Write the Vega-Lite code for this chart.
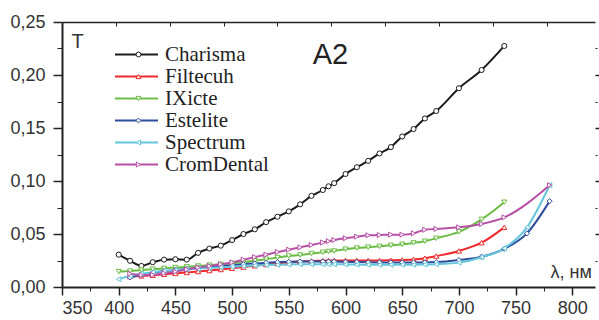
{
  "$schema": "https://vega.github.io/schema/vega-lite/v6.json",
  "width": 533,
  "height": 265,
  "autosize": {"type": "none"},
  "padding": {"left": 62, "top": 22, "right": 4, "bottom": 33},
  "background": "white",
  "config": {"view": {"stroke": null}},
  "title": {"text": "A2", "font": "Liberation Sans", "fontSize": 29, "fontWeight": "normal", "color": "#222", "anchor": "middle", "frame": "group", "baseline": "alphabetic", "offset": -80, "dx": 2},
  "data": {"values": [
    {"s":"Charisma","x":400,"T":0.0305},{"s":"Charisma","x":410,"T":0.0247},{"s":"Charisma","x":420,"T":0.0199},{"s":"Charisma","x":430,"T":0.0234},{"s":"Charisma","x":440,"T":0.0258},{"s":"Charisma","x":450,"T":0.0262},{"s":"Charisma","x":460,"T":0.0258},{"s":"Charisma","x":470,"T":0.0322},{"s":"Charisma","x":480,"T":0.0363},{"s":"Charisma","x":490,"T":0.039},{"s":"Charisma","x":500,"T":0.0443},{"s":"Charisma","x":510,"T":0.05},{"s":"Charisma","x":520,"T":0.0544},{"s":"Charisma","x":530,"T":0.0612},{"s":"Charisma","x":540,"T":0.0663},{"s":"Charisma","x":550,"T":0.0713},{"s":"Charisma","x":560,"T":0.078},{"s":"Charisma","x":570,"T":0.086},{"s":"Charisma","x":580,"T":0.0915},{"s":"Charisma","x":585,"T":0.095},{"s":"Charisma","x":590,"T":0.098},{"s":"Charisma","x":600,"T":0.1066},{"s":"Charisma","x":610,"T":0.113},{"s":"Charisma","x":620,"T":0.119},{"s":"Charisma","x":630,"T":0.126},{"s":"Charisma","x":640,"T":0.132},{"s":"Charisma","x":650,"T":0.142},{"s":"Charisma","x":660,"T":0.149},{"s":"Charisma","x":670,"T":0.159},{"s":"Charisma","x":680,"T":0.166},{"s":"Charisma","x":700,"T":0.1875},{"s":"Charisma","x":720,"T":0.2047},{"s":"Charisma","x":740,"T":0.2274},

    {"s":"Filtecuh","x":410,"T":0.010},{"s":"Filtecuh","x":420,"T":0.0105},{"s":"Filtecuh","x":430,"T":0.011},{"s":"Filtecuh","x":440,"T":0.012},{"s":"Filtecuh","x":450,"T":0.0128},{"s":"Filtecuh","x":460,"T":0.0137},{"s":"Filtecuh","x":470,"T":0.0146},{"s":"Filtecuh","x":480,"T":0.0155},{"s":"Filtecuh","x":490,"T":0.0165},{"s":"Filtecuh","x":500,"T":0.0176},{"s":"Filtecuh","x":510,"T":0.0188},{"s":"Filtecuh","x":520,"T":0.020},{"s":"Filtecuh","x":530,"T":0.0212},{"s":"Filtecuh","x":540,"T":0.0222},{"s":"Filtecuh","x":550,"T":0.0232},{"s":"Filtecuh","x":560,"T":0.024},{"s":"Filtecuh","x":570,"T":0.0245},{"s":"Filtecuh","x":580,"T":0.0248},{"s":"Filtecuh","x":585,"T":0.025},{"s":"Filtecuh","x":590,"T":0.025},{"s":"Filtecuh","x":600,"T":0.025},{"s":"Filtecuh","x":610,"T":0.025},{"s":"Filtecuh","x":620,"T":0.025},{"s":"Filtecuh","x":630,"T":0.025},{"s":"Filtecuh","x":640,"T":0.0252},{"s":"Filtecuh","x":650,"T":0.0255},{"s":"Filtecuh","x":660,"T":0.026},{"s":"Filtecuh","x":670,"T":0.0272},{"s":"Filtecuh","x":680,"T":0.0292},{"s":"Filtecuh","x":700,"T":0.034},{"s":"Filtecuh","x":720,"T":0.0418},{"s":"Filtecuh","x":740,"T":0.0563},

    {"s":"IXicte","x":400,"T":0.0145},{"s":"IXicte","x":410,"T":0.015},{"s":"IXicte","x":420,"T":0.016},{"s":"IXicte","x":430,"T":0.0168},{"s":"IXicte","x":440,"T":0.0176},{"s":"IXicte","x":450,"T":0.0184},{"s":"IXicte","x":460,"T":0.019},{"s":"IXicte","x":470,"T":0.0198},{"s":"IXicte","x":480,"T":0.0206},{"s":"IXicte","x":490,"T":0.0215},{"s":"IXicte","x":500,"T":0.0224},{"s":"IXicte","x":510,"T":0.0235},{"s":"IXicte","x":520,"T":0.0248},{"s":"IXicte","x":530,"T":0.0262},{"s":"IXicte","x":540,"T":0.0278},{"s":"IXicte","x":550,"T":0.0292},{"s":"IXicte","x":560,"T":0.0302},{"s":"IXicte","x":570,"T":0.0316},{"s":"IXicte","x":580,"T":0.0328},{"s":"IXicte","x":585,"T":0.0335},{"s":"IXicte","x":590,"T":0.034},{"s":"IXicte","x":600,"T":0.0357},{"s":"IXicte","x":610,"T":0.0367},{"s":"IXicte","x":620,"T":0.0376},{"s":"IXicte","x":630,"T":0.0384},{"s":"IXicte","x":640,"T":0.0393},{"s":"IXicte","x":650,"T":0.0403},{"s":"IXicte","x":660,"T":0.0416},{"s":"IXicte","x":670,"T":0.0432},{"s":"IXicte","x":680,"T":0.046},{"s":"IXicte","x":700,"T":0.052},{"s":"IXicte","x":720,"T":0.0638},{"s":"IXicte","x":740,"T":0.080},

    {"s":"Estelite","x":410,"T":0.009},{"s":"Estelite","x":420,"T":0.0115},{"s":"Estelite","x":430,"T":0.0135},{"s":"Estelite","x":440,"T":0.015},{"s":"Estelite","x":450,"T":0.016},{"s":"Estelite","x":460,"T":0.017},{"s":"Estelite","x":470,"T":0.018},{"s":"Estelite","x":480,"T":0.019},{"s":"Estelite","x":490,"T":0.0198},{"s":"Estelite","x":500,"T":0.0205},{"s":"Estelite","x":510,"T":0.0215},{"s":"Estelite","x":520,"T":0.0222},{"s":"Estelite","x":530,"T":0.0228},{"s":"Estelite","x":540,"T":0.0235},{"s":"Estelite","x":550,"T":0.0238},{"s":"Estelite","x":560,"T":0.024},{"s":"Estelite","x":570,"T":0.024},{"s":"Estelite","x":580,"T":0.024},{"s":"Estelite","x":585,"T":0.024},{"s":"Estelite","x":590,"T":0.024},{"s":"Estelite","x":600,"T":0.0238},{"s":"Estelite","x":610,"T":0.0235},{"s":"Estelite","x":620,"T":0.0233},{"s":"Estelite","x":630,"T":0.0232},{"s":"Estelite","x":640,"T":0.0232},{"s":"Estelite","x":650,"T":0.0232},{"s":"Estelite","x":660,"T":0.0232},{"s":"Estelite","x":670,"T":0.0232},{"s":"Estelite","x":680,"T":0.0235},{"s":"Estelite","x":700,"T":0.0255},{"s":"Estelite","x":720,"T":0.0286},{"s":"Estelite","x":740,"T":0.036},{"s":"Estelite","x":760,"T":0.0506},{"s":"Estelite","x":780,"T":0.081},

    {"s":"Spectrum","x":400,"T":0.0073},{"s":"Spectrum","x":410,"T":0.0105},{"s":"Spectrum","x":420,"T":0.0125},{"s":"Spectrum","x":430,"T":0.014},{"s":"Spectrum","x":440,"T":0.015},{"s":"Spectrum","x":450,"T":0.0158},{"s":"Spectrum","x":460,"T":0.0165},{"s":"Spectrum","x":470,"T":0.0172},{"s":"Spectrum","x":480,"T":0.018},{"s":"Spectrum","x":490,"T":0.0186},{"s":"Spectrum","x":500,"T":0.0192},{"s":"Spectrum","x":510,"T":0.0198},{"s":"Spectrum","x":520,"T":0.0203},{"s":"Spectrum","x":530,"T":0.0207},{"s":"Spectrum","x":540,"T":0.021},{"s":"Spectrum","x":550,"T":0.0213},{"s":"Spectrum","x":560,"T":0.0215},{"s":"Spectrum","x":570,"T":0.0215},{"s":"Spectrum","x":580,"T":0.0215},{"s":"Spectrum","x":585,"T":0.0215},{"s":"Spectrum","x":590,"T":0.0215},{"s":"Spectrum","x":600,"T":0.0213},{"s":"Spectrum","x":610,"T":0.0212},{"s":"Spectrum","x":620,"T":0.021},{"s":"Spectrum","x":630,"T":0.021},{"s":"Spectrum","x":640,"T":0.021},{"s":"Spectrum","x":650,"T":0.021},{"s":"Spectrum","x":660,"T":0.021},{"s":"Spectrum","x":670,"T":0.0212},{"s":"Spectrum","x":680,"T":0.0215},{"s":"Spectrum","x":700,"T":0.023},{"s":"Spectrum","x":720,"T":0.028},{"s":"Spectrum","x":740,"T":0.0365},{"s":"Spectrum","x":760,"T":0.0563},{"s":"Spectrum","x":780,"T":0.096},

    {"s":"CromDental","x":410,"T":0.0125},{"s":"CromDental","x":420,"T":0.0113},{"s":"CromDental","x":430,"T":0.0115},{"s":"CromDental","x":440,"T":0.013},{"s":"CromDental","x":450,"T":0.0145},{"s":"CromDental","x":460,"T":0.0165},{"s":"CromDental","x":470,"T":0.0185},{"s":"CromDental","x":480,"T":0.0198},{"s":"CromDental","x":490,"T":0.0215},{"s":"CromDental","x":500,"T":0.0232},{"s":"CromDental","x":510,"T":0.0258},{"s":"CromDental","x":520,"T":0.0282},{"s":"CromDental","x":530,"T":0.0305},{"s":"CromDental","x":540,"T":0.033},{"s":"CromDental","x":550,"T":0.0352},{"s":"CromDental","x":560,"T":0.0374},{"s":"CromDental","x":570,"T":0.0396},{"s":"CromDental","x":580,"T":0.042},{"s":"CromDental","x":585,"T":0.0432},{"s":"CromDental","x":590,"T":0.0443},{"s":"CromDental","x":600,"T":0.046},{"s":"CromDental","x":610,"T":0.0475},{"s":"CromDental","x":620,"T":0.0488},{"s":"CromDental","x":630,"T":0.049},{"s":"CromDental","x":640,"T":0.0494},{"s":"CromDental","x":650,"T":0.0494},{"s":"CromDental","x":660,"T":0.0506},{"s":"CromDental","x":670,"T":0.054},{"s":"CromDental","x":680,"T":0.0548},{"s":"CromDental","x":700,"T":0.0563},{"s":"CromDental","x":720,"T":0.0594},{"s":"CromDental","x":740,"T":0.0657},{"s":"CromDental","x":780,"T":0.096}
  ]},
  "resolve": {"axis": {"x": "independent", "y": "independent"}},
  "layer": [
    {
      "mark": {"type": "line", "interpolate": "monotone", "strokeWidth": 2},
      "encoding": {
        "x": {"field": "x", "type": "quantitative", "scale": {"domain": [350, 820], "nice": false, "zero": false},
          "axis": {"orient": "bottom", "values": [350,400,450,500,550,600,650,700,750,800], "format": "d", "grid": false,
            "domainColor": "#222", "domainWidth": 2, "tickColor": "#222", "tickWidth": 1.5, "tickSize": 8,
            "labelFont": "Liberation Sans Narrow, Liberation Sans", "labelFontSize": 18, "labelColor": "#333", "labelPadding": 4,
            "title": "λ, нм", "titleFont": "Liberation Sans", "titleFontSize": 18, "titleFontWeight": "normal", "titleColor": "#333",
            "titleX": 488, "titleY": -10, "titleAlign": "left", "titleBaseline": "alphabetic"}},
        "y": {"field": "T", "type": "quantitative", "scale": {"domain": [0, 0.25], "nice": false},
          "axis": {"orient": "left", "values": [0,0.05,0.1,0.15,0.2,0.25], "grid": false,
            "labelExpr": "replace(format(datum.value, '.2f'), '.', ',')",
            "domainColor": "#222", "domainWidth": 2, "tickColor": "#222", "tickWidth": 1.5, "tickSize": 9,
            "labelFont": "Liberation Sans Narrow, Liberation Sans", "labelFontSize": 18, "labelColor": "#333", "labelPadding": 8,
            "title": "T", "titleFont": "Liberation Sans", "titleFontSize": 20, "titleFontWeight": "normal", "titleColor": "#333",
            "titleAngle": 0, "titleX": 9, "titleY": 25, "titleAlign": "left", "titleBaseline": "alphabetic"}},
        "color": {"field": "s", "type": "nominal",
          "scale": {"domain": ["Charisma","Filtecuh","IXicte","Estelite","Spectrum","CromDental"], "range": ["#1b1b1b","#ee2a2f","#6cbd45","#2e4c9d","#62c6dc","#b84fa6"]},
          "legend": {"orient": "none", "legendX": 64, "legendY": 22, "title": null, "symbolType": "M-4.3,0H4.3", "symbolSize": 100, "symbolStrokeWidth": 2,
            "labelFont": "Liberation Serif", "labelFontSize": 21, "labelColor": "#222", "labelOffset": 18, "rowPadding": 0}}
      }
    },
    {
      "mark": {"type": "point", "filled": true, "fill": "white", "strokeWidth": 1, "size": 26, "opacity": 1},
      "encoding": {
        "x": {"field": "x", "type": "quantitative",
          "axis": {"orient": "top", "values": [397.5,445,492.5,540,587.5,635,682.5,730,777.5], "labels": false, "title": null, "grid": false,
            "domainColor": "#222", "domainWidth": 1.5, "tickColor": "#222", "tickWidth": 1, "tickSize": -4}},
        "y": {"field": "T", "type": "quantitative",
          "axis": {"orient": "right", "values": [0.05,0.1,0.15,0.2], "labels": false, "title": null, "grid": false, "domain": false,
            "tickColor": "#222", "tickWidth": 1.5, "tickSize": 5}},
        "stroke": {"field": "s", "type": "nominal",
          "scale": {"domain": ["CromDental","Spectrum","Estelite","IXicte","Filtecuh","Charisma"], "range": ["#b84fa6","#62c6dc","#2e4c9d","#6cbd45","#ee2a2f","#1b1b1b"]},
          "legend": {"orient": "none", "legendX": 66, "legendY": 22, "title": null, "values": ["Charisma","Filtecuh","IXicte","Estelite","Spectrum","CromDental"], "symbolSize": 24, "symbolStrokeWidth": 1, "symbolFillColor": "white",
            "labelExpr": "' '", "labelFont": "Liberation Serif", "labelFontSize": 21, "labelOpacity": 0, "labelOffset": 0, "rowPadding": 0}},
        "shape": {"field": "s", "type": "nominal",
          "scale": {"domain": ["CromDental","Spectrum","Estelite","IXicte","Filtecuh","Charisma"], "range": ["triangle-right","triangle-left","diamond","triangle-down","triangle-up","circle"]},
          "legend": {"orient": "none", "legendX": 66, "legendY": 22, "title": null, "values": ["Charisma","Filtecuh","IXicte","Estelite","Spectrum","CromDental"], "symbolSize": 24, "symbolStrokeWidth": 1, "symbolFillColor": "white",
            "labelExpr": "' '", "labelFont": "Liberation Serif", "labelFontSize": 21, "labelOpacity": 0, "labelOffset": 0, "rowPadding": 0}}
      }
    },
    {
      "mark": {"type": "point", "opacity": 0},
      "encoding": {
        "x": {"field": "x", "type": "quantitative",
          "axis": {"orient": "bottom", "values": [375,425,475,525,575,625,675,725,775], "labels": false, "title": null, "grid": false, "domain": false,
            "tickColor": "#222", "tickWidth": 1, "tickSize": 4}},
        "y": {"field": "T", "type": "quantitative",
          "axis": {"orient": "left", "values": [0.025,0.075,0.125,0.175,0.225], "labels": false, "title": null, "grid": false, "domain": false,
            "tickColor": "#222", "tickWidth": 1, "tickSize": 5}}
      }
    },
    {
      "mark": {"type": "point", "opacity": 0},
      "encoding": {
        "x": {"field": "x", "type": "quantitative", "axis": null},
        "y": {"field": "T", "type": "quantitative",
          "axis": {"orient": "right", "values": [0.025,0.075,0.125,0.175,0.225], "labels": false, "title": null, "grid": false, "domain": false,
            "tickColor": "#222", "tickWidth": 1, "tickSize": 2}}
      }
    }
  ]
}
